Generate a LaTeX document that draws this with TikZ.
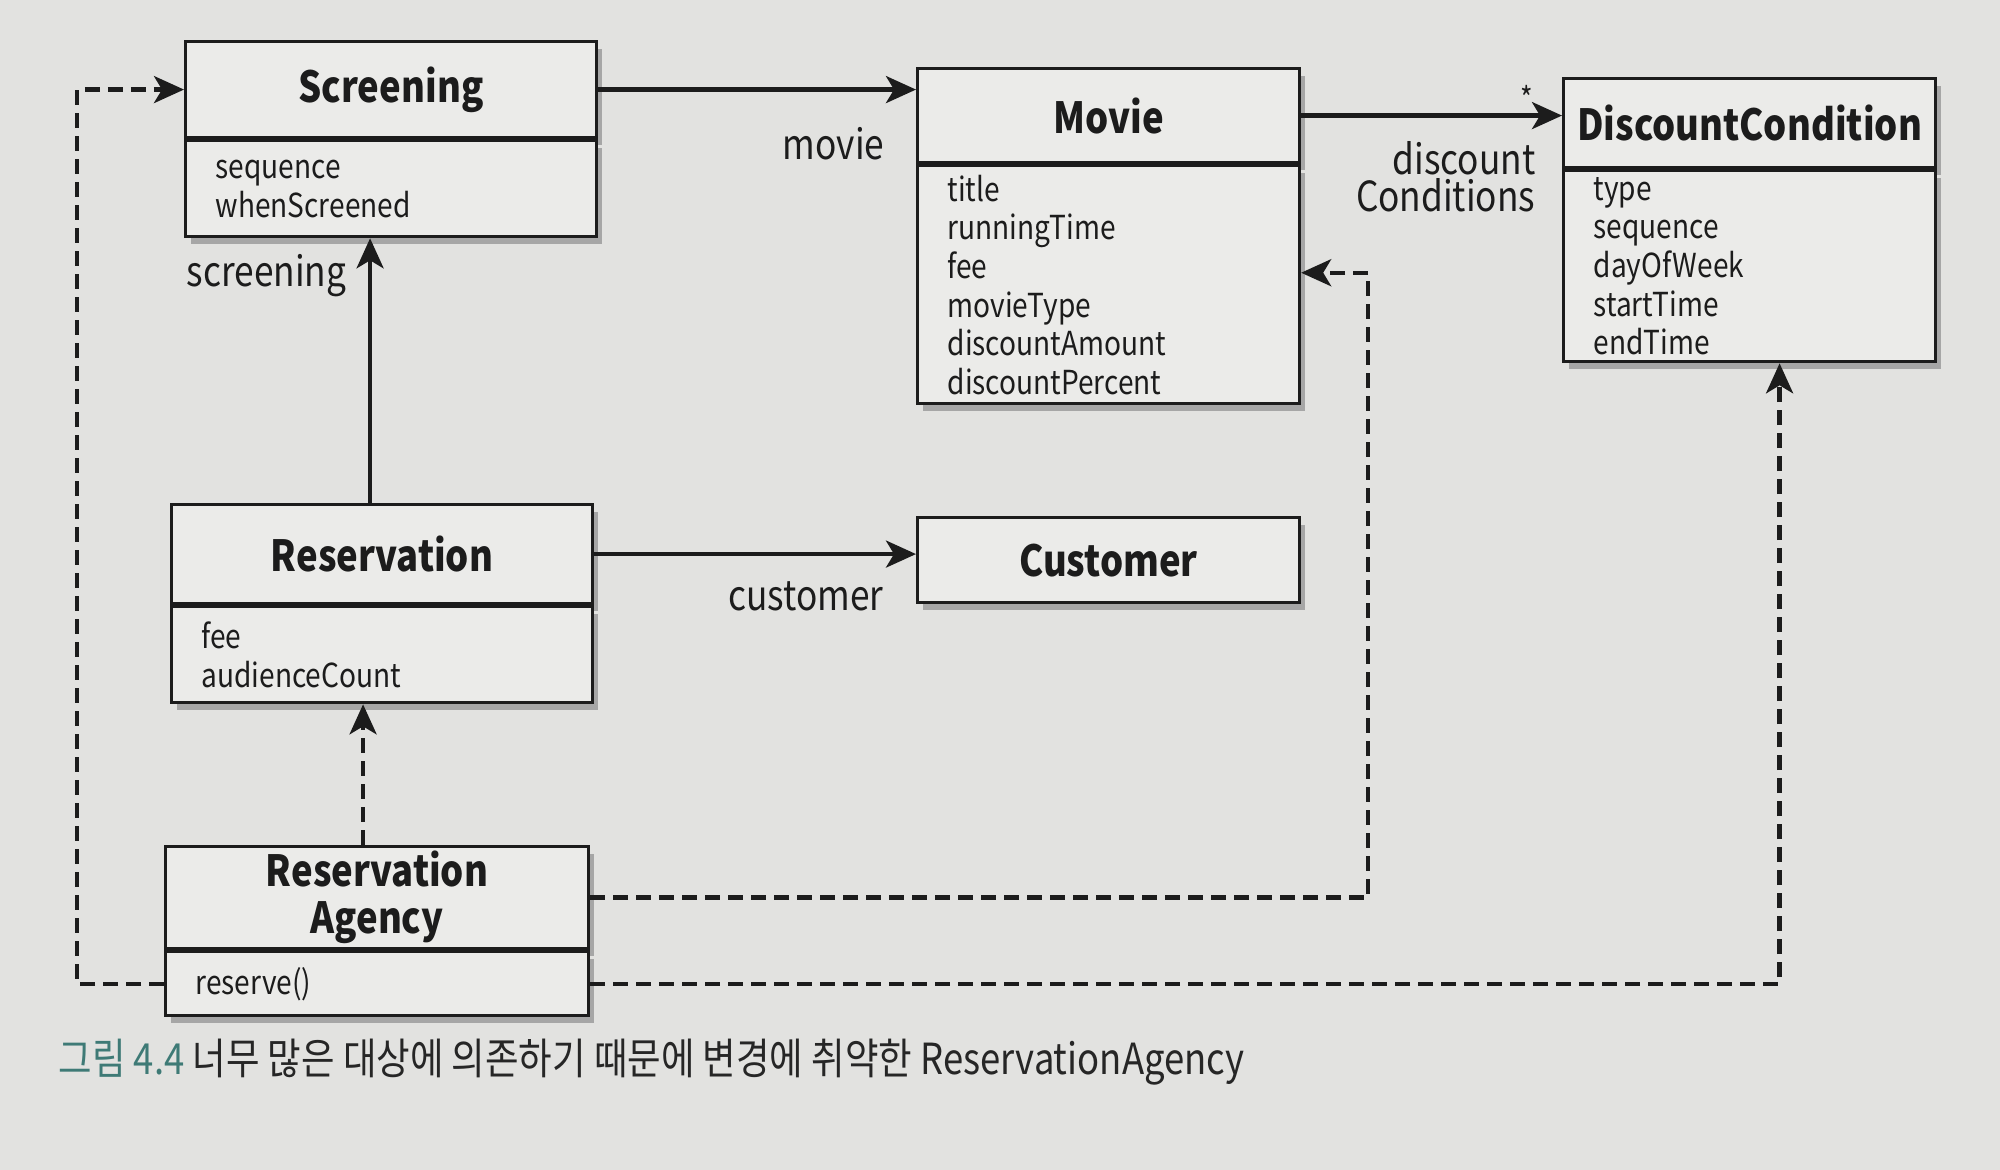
\documentclass[tikz,border=0pt]{standalone}
\usepackage{fontspec}
\setmainfont{Noto Sans CJK KR}[FakeStretch=0.85]
\newfontfamily\capfont{Noto Sans CJK KR}[FakeStretch=0.85]
\usepackage{tikz}
\usetikzlibrary{arrows.meta,positioning,calc,shadows}
\definecolor{paper}{RGB}{226,226,224}
\definecolor{boxfill}{RGB}{235,235,233}
\definecolor{ink}{RGB}{28,28,28}
\definecolor{capteal}{RGB}{62,122,118}

\begin{document}
\begin{tikzpicture}[
    classhead/.style={rectangle, draw=ink, line width=0.9pt, fill=boxfill,
                      drop shadow={opacity=1, fill=black!35, shadow xshift=0.05cm, shadow yshift=-0.07cm},
                      inner sep=0pt, anchor=north west, align=center, text=ink,
                      font=\fontsize{12.2}{13.5}\selectfont\bfseries},
    classbody/.style={classhead, align=left, inner xsep=0.3cm, inner ysep=0pt,
                      font=\fontsize{9.4}{11}\selectfont},
    rolelabel/.style={font=\fontsize{11.8}{10.5}\selectfont, text=ink, inner sep=0pt},
    assoc/.style={draw=ink, line width=1.2pt, -{Stealth[length=0.3cm, width=0.27cm, inset=0.08cm]}},
    depend/.style={assoc, dash pattern=on 0.15cm off 0.08cm}
]
    \fill[paper] (0,0) rectangle (20,-11.7);
    \useasboundingbox (0,0) rectangle (20,-11.7);

    % classes
    \node[classhead, minimum width=4.11cm, minimum height=0.96cm] (screening) at (1.84,-0.40) {Screening};
    \node[classbody, text width=3.51cm, minimum height=0.96cm] (screeningattr) at (screening.south west) {sequence\\whenScreened};

    \node[classhead, minimum width=3.82cm, minimum height=0.94cm] (movie) at (9.16,-0.67) {Movie};
    \node[classbody, text width=3.22cm, minimum height=2.38cm] (movieattr) at (movie.south west)
        {title\\runningTime\\fee\\movieType\\discountAmount\\discountPercent};

    \node[classhead, minimum width=3.72cm, minimum height=0.89cm] (dcond) at (15.62,-0.77) {DiscountCondition};
    \node[classbody, text width=3.12cm, minimum height=1.91cm] (dcondattr) at (dcond.south west)
        {type\\sequence\\dayOfWeek\\startTime\\endTime};

    \node[classhead, minimum width=4.21cm, minimum height=0.99cm] (reservation) at (1.70,-5.03) {Reservation};
    \node[classbody, text width=3.61cm, minimum height=0.96cm] (reservationattr) at (reservation.south west) {fee\\audienceCount};

    \node[classhead, minimum width=3.82cm, minimum height=0.85cm] (customer) at (9.16,-5.16) {Customer};

    \node[classhead, minimum width=4.23cm, minimum height=1.02cm] (agency) at (1.64,-8.45) {Reservation\\Agency};
    \node[classbody, text width=3.63cm, minimum height=0.64cm] (agencyattr) at (agency.south west) {reserve()};

    % associations
    \draw[assoc] (screening.east) -- (screening.east -| movie.west);
    \node[rolelabel, anchor=east] (movielbl) at (8.85,-1.44) {movie};

    \draw[assoc] (movie.east) -- (movie.east -| dcond.west);
    \node[rolelabel, font=\fontsize{9}{9}\selectfont] (many) at (15.27,-0.98) {*};
    \node[rolelabel, anchor=east, align=right] (dcondlbl) at (15.36,-1.77) {discount\\Conditions};

    \coordinate (scrfoot) at ($(reservation.north)+(-0.12,0)$);
    \draw[assoc] (scrfoot) -- (scrfoot |- screeningattr.south);
    \node[rolelabel, anchor=east] (screeninglbl) at (3.47,-2.76) {screening};

    \draw[assoc] (reservation.east) -- (reservation.east -| customer.west);
    \node[rolelabel, anchor=east] (customerlbl) at (8.84,-5.96) {customer};

    % dependencies
    \coordinate (agtop) at ($(agency.north)+(-0.14,0)$);
    \draw[depend] (agtop) -- (agtop |- reservationattr.south);
    \draw[depend] (agency.east) -| ($(movieattr.east)+(0.67,0.12)$) -- ($(movieattr.east)+(0,0.12)$);
    \draw[depend] (agencyattr.east) -| ($(dcondattr.south)+(0.3,0)$);
    \draw[depend] (agencyattr.west) -| ($(screening.west)+(-1.07,0)$) -- (screening.west);

    \node[anchor=west, inner sep=0pt, font=\capfont\fontsize{12.2}{14}\selectfont, text=black!85] (caption) at (0.58,-10.62)
        {\textcolor{capteal}{그림 4.4} 너무 많은 대상에 의존하기 때문에 변경에 취약한 ReservationAgency};
\end{tikzpicture}
\end{document}
